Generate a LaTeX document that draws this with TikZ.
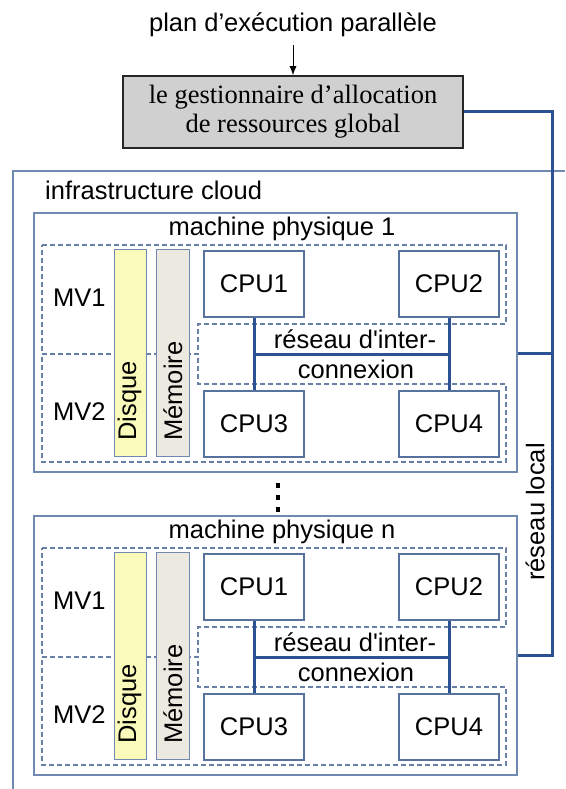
\documentclass[tikz,border=0pt]{standalone}
\usepackage{fontspec}
\setmainfont{Liberation Serif}
\setsansfont{Liberation Sans}
\usetikzlibrary{arrows.meta}

\definecolor{cadre}{RGB}{112,137,176}
\definecolor{cpubord}{RGB}{88,114,158}
\definecolor{pointille}{RGB}{104,128,168}
\definecolor{reseau}{RGB}{44,82,148}
\definecolor{disque}{RGB}{250,250,186}
\definecolor{memoire}{RGB}{236,233,224}
\definecolor{gest}{RGB}{208,208,208}

\tikzset{
	txt/.style={font=\sffamily\fontsize{25.5}{30}\selectfont, inner sep=0pt},
	cpu/.style={draw=cpubord, line width=1.5pt, minimum width=100pt, minimum height=66pt, inner sep=0pt, font=\sffamily\fontsize{25.5}{30}\selectfont},
	machine/.style={draw=cadre, line width=1.5pt, minimum width=483pt, minimum height=259pt, inner sep=0pt, anchor=north west},
	cadrebord/.style={draw=cadre, line width=1.5pt},
	mv/.style={draw=pointille, line width=1.4pt, dash pattern=on 5pt off 3pt},
	bus/.style={draw=reseau, line width=3pt},
	barre/.style={draw=cadre, line width=1.4pt, minimum height=207pt, inner sep=0pt, anchor=north west}
}

\begin{document}
\begin{tikzpicture}[x=1pt, y=-1pt]
		\useasboundingbox (0,0) rectangle (565,789);

		% gestionnaire global
		\node[txt, anchor=base] (plan) at (293,32) {plan d’exécution parallèle};
		\node[draw=black!85, fill=gest, line width=1.6pt, minimum width=340pt, minimum height=72pt, align=center,
			font=\fontsize{26.5}{29}\selectfont] (gest) at (293,112) {le gestionnaire d’allocation\\de ressources global};
		\draw[-{Latex[length=9pt, width=7pt]}, line width=0.9pt, shorten <=8pt] (plan) -- (gest);

		% infrastructure cloud
		\draw[cadrebord] (565,171) -- (13,171) -- (13,789);
		\node[txt, anchor=base west] (infra) at (45,199) {infrastructure cloud};

		% machine physique 1
		\node[machine] (m1) at (33,212) {};
		\node[txt, anchor=base] (mp1) at (282,235) {machine physique 1};
		\draw[mv] (42,245) -- (506,245) -- (506,324) -- (198,324) -- (198,354) -- (42,354) -- cycle;
		\draw[mv] (42,354) -- (198,354) -- (198,384) -- (506,384) -- (506,462) -- (42,462) -- cycle;
		\node[txt, anchor=base west] (mv11) at (53,306) {MV1};
		\node[txt, anchor=base west] (mv12) at (53,420) {MV2};
		\node[barre, fill=disque, minimum width=32pt] (dq1) at (114,249) {};
		\node[barre, fill=memoire, minimum width=33pt] (me1) at (156,249) {};
		\node[txt, rotate=90, anchor=base west] (dqt1) at (136,441) {Disque};
		\node[txt, rotate=90, anchor=base west] (met1) at (182,441) {Mémoire};
		\node[cpu] (c11) at (254,284) {CPU1};
		\node[cpu] (c12) at (449,284) {CPU2};
		\node[cpu] (c13) at (254,424) {CPU3};
		\node[cpu] (c14) at (449,424) {CPU4};
		\coordinate (b11) at (254,354);
		\coordinate (b12) at (449,354);
		\draw[bus] (c11) -- (c13);
		\draw[bus] (c12) -- (c14);
		\draw[bus] (b11) -- (b12);
		\node[txt, anchor=base] (rs1) at (355,348) {réseau d\textquotesingle inter-};
		\node[txt, anchor=base] (cx1) at (356,378) {connexion};

		% points de suspension
		\fill (276,483) rectangle (280,488);
		\fill (276,495) rectangle (280,500);
		\fill (276,507) rectangle (280,512);

		% machine physique n
		\node[machine] (mn) at (33,515) {};
		\node[txt, anchor=base] (mpn) at (282,538) {machine physique n};
		\draw[mv] (42,548) -- (506,548) -- (506,627) -- (198,627) -- (198,657) -- (42,657) -- cycle;
		\draw[mv] (42,657) -- (198,657) -- (198,687) -- (506,687) -- (506,765) -- (42,765) -- cycle;
		\node[txt, anchor=base west] (mvn1) at (53,609) {MV1};
		\node[txt, anchor=base west] (mvn2) at (53,723) {MV2};
		\node[barre, fill=disque, minimum width=32pt] (dqn) at (114,552) {};
		\node[barre, fill=memoire, minimum width=33pt] (men) at (156,552) {};
		\node[txt, rotate=90, anchor=base west] (dqtn) at (136,744) {Disque};
		\node[txt, rotate=90, anchor=base west] (metn) at (182,744) {Mémoire};
		\node[cpu] (cn1) at (254,587) {CPU1};
		\node[cpu] (cn2) at (449,587) {CPU2};
		\node[cpu] (cn3) at (254,727) {CPU3};
		\node[cpu] (cn4) at (449,727) {CPU4};
		\coordinate (bn1) at (254,657);
		\coordinate (bn2) at (449,657);
		\draw[bus] (cn1) -- (cn3);
		\draw[bus] (cn2) -- (cn4);
		\draw[bus] (bn1) -- (bn2);
		\node[txt, anchor=base] (rsn) at (355,651) {réseau d\textquotesingle inter-};
		\node[txt, anchor=base] (cxn) at (356,681) {connexion};

		% reseau local
		\coordinate (l1) at (552,353);
		\coordinate (ln) at (552,655);
		\draw[bus] (gest.east) -| (ln) -- (ln -| mn.east);
		\draw[bus] (l1) -- (l1 -| m1.east);
		\node[txt, rotate=90] (rloc) at (535,512) {réseau local};
	\end{tikzpicture}
\end{document}
